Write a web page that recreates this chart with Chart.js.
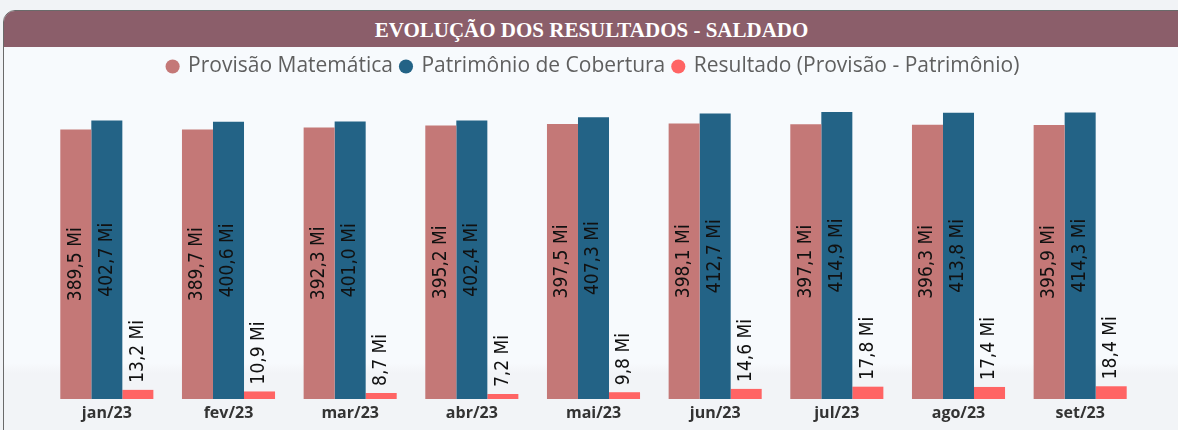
<!DOCTYPE html>
<html><head><meta charset="utf-8">
<script src="https://cdn.jsdelivr.net/npm/chart.js@4.4.1/dist/chart.umd.min.js"></script>
<style>
html,body{margin:0;padding:0;width:1178px;height:430px;overflow:hidden;background:#f1f3f6;}
#panel{position:absolute;left:3px;top:10px;width:1190px;height:432px;border:1px solid #6a6a6a;border-radius:12px;overflow:hidden;
background:linear-gradient(to bottom,#f7fafd 0px,#f7fafd 352px,#f2f4f7 362px,#f2f4f7 100%);}
#title{position:absolute;left:0;top:0;width:1175px;height:36px;background:#8b5e6a;color:#fff;
font-family:"Liberation Serif","DejaVu Serif",serif;font-weight:bold;font-size:21px;line-height:38px;text-align:center;}
#wrap{position:absolute;left:0;top:46px;width:1178px;height:384px;}
</style></head>
<body>
<div id="panel"><div id="title">EVOLUÇÃO DOS RESULTADOS - SALDADO</div></div>
<div id="wrap"><canvas id="c" width="1178" height="384"></canvas></div>
<script>
const categories = ["jan/23","fev/23","mar/23","abr/23","mai/23","jun/23","jul/23","ago/23","set/23"];
const provisao   = [389.5,389.7,392.3,395.2,397.5,398.1,397.1,396.3,395.9];
const patrimonio = [402.7,400.6,401.0,402.4,407.3,412.7,414.9,413.8,414.3];
const resultado  = [13.2,10.9,8.7,7.2,9.8,14.6,17.8,17.4,18.4];
const seriesNames = ["Provisão Matemática","Patrimônio de Cobertura","Resultado (Provisão - Patrimônio)"];

function fmt(v){return v.toFixed(1).replace('.',',')+' Mi';}

const labelPlugin = {
  id:'barLabels',
  afterDatasetsDraw(chart){
    const ctx = chart.ctx;
    ctx.save();
    ctx.font = '19px "DejaVu Sans Condensed", Roboto, sans-serif';
    ctx.fillStyle = '#111';
    chart.data.datasets.forEach((ds,i)=>{
      const meta = chart.getDatasetMeta(i);
      meta.data.forEach((bar,j)=>{
        const txt = fmt(ds.data[j]);
        ctx.save();
        ctx.translate(bar.x, 0);
        ctx.rotate(-Math.PI/2);
        ctx.textBaseline='middle';
        if(i<2){
          ctx.textAlign='center';
          const yc = (bar.y + bar.base)/2;
          ctx.fillText(txt, -yc, 0);
        } else {
          ctx.textAlign='left';
          ctx.fillText(txt, -(bar.y-7), 0);
        }
        ctx.restore();
      });
    });
    ctx.restore();
  }
};

new Chart(document.getElementById('c'),{
  type:'bar',
  data:{labels:categories,datasets:[
    {label:seriesNames[0],data:provisao,backgroundColor:'#c47877'},
    {label:seriesNames[1],data:patrimonio,backgroundColor:'#236386'},
    {label:seriesNames[2],data:resultado,backgroundColor:'#ff6464'}
  ]},
  options:{
    responsive:false,animation:false,
    datasets:{bar:{categoryPercentage:0.765,barPercentage:1.0}},
    layout:{padding:{left:46,right:37,top:2,bottom:3}},
    plugins:{
      legend:{position:'top',labels:{usePointStyle:true,pointStyle:'circle',boxWidth:10,boxHeight:10,padding:8,
        color:'#5f5f5f',font:{family:'"Open Sans","Noto Sans",sans-serif',size:21}}},
      tooltip:{enabled:false}
    },
    scales:{
      x:{grid:{display:false,drawTicks:false},border:{display:false},
         ticks:{color:'#333',padding:6,font:{family:'"Open Sans","Noto Sans",sans-serif',size:16,weight:'bold',lineHeight:1}}},
      y:{display:false,min:0,max:451}
    }
  },
  plugins:[labelPlugin]
});
</script>
</body></html>
